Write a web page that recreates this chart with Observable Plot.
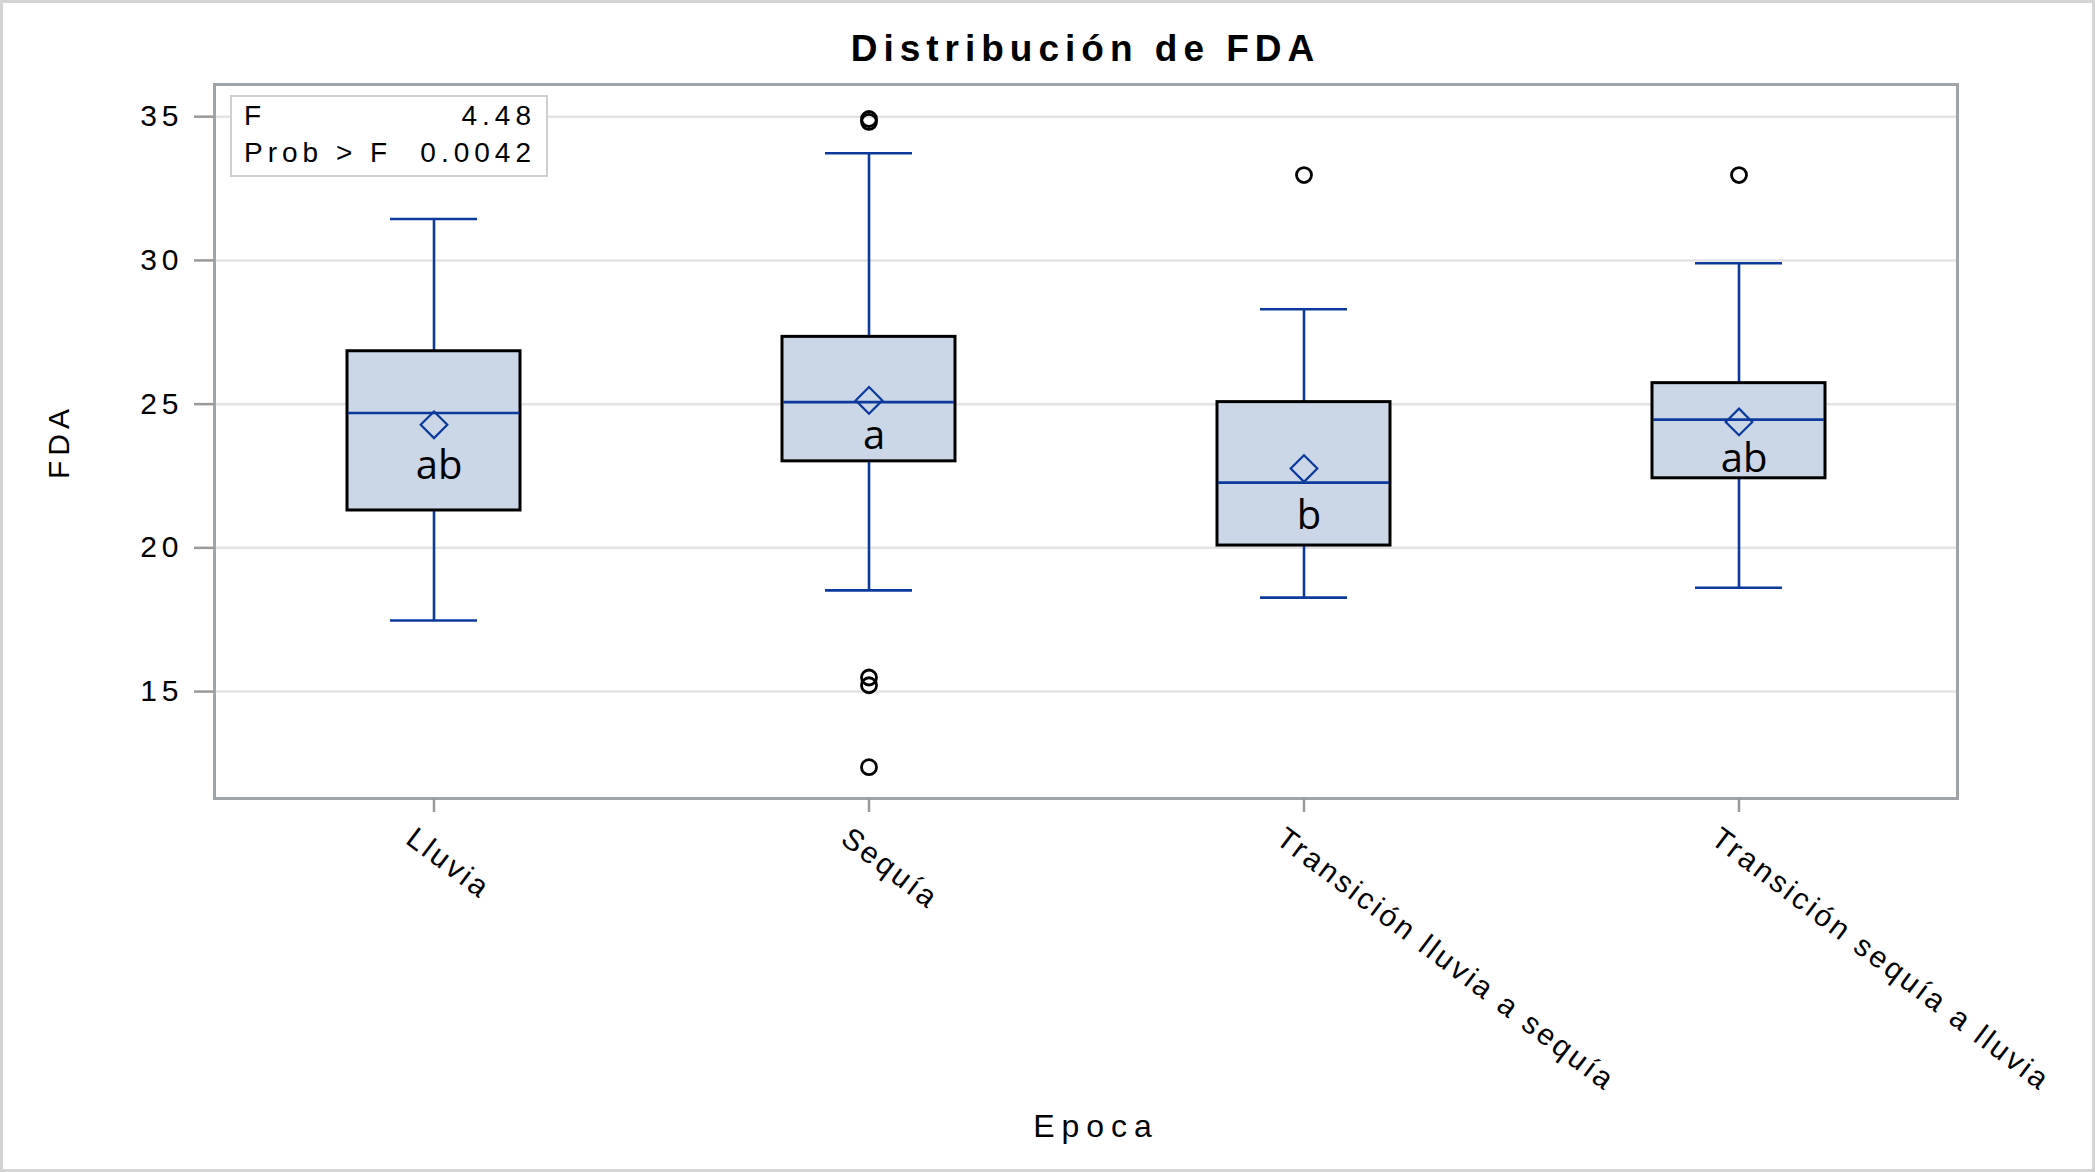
<!DOCTYPE html>
<html>
<head>
<meta charset="utf-8">
<script src="https://cdn.jsdelivr.net/npm/d3@7"></script>
<script src="https://cdn.jsdelivr.net/npm/@observablehq/plot@0.6"></script>
<style>
  html, body { margin: 0; padding: 0; background: #fff; }
  #wrap { position: relative; width: 2095px; height: 1172px; overflow: hidden; background: #fff;
          font-family: "Liberation Sans", Arial, sans-serif; color: #000; }
  #frameBorder { position: absolute; left: 0; top: 0; width: 2095px; height: 1172px; box-sizing: border-box;
                 border: 3px solid #d4d4d4; pointer-events: none; }
  #title { height: 70px; box-sizing: border-box; padding-top: 30px; padding-left: 76px; text-align: center;
           font-weight: bold; font-size: 37px; line-height: 1; letter-spacing: 6px; }
  #stats { position: absolute; left: 230px; top: 95px; width: 318px; height: 82px; box-sizing: border-box;
           border: 2px solid #cfcfcf; background: #fff; font-size: 28px; letter-spacing: 5px; }
  #stats .row { display: flex; justify-content: space-between; height: 37px; line-height: 37px;
                padding: 0 10px 0 12px; white-space: pre; }
  #chart svg text { letter-spacing: 5px; }
  #chart svg g[aria-label="x-axis tick label"] text { letter-spacing: 3px; }
  #chart svg .letra text, #chart svg text.letra { letter-spacing: 0; }
  #chart svg .ejeX text, #chart svg text.ejeX { letter-spacing: 7px; }
</style>
</head>
<body>
<div id="wrap">
  <div id="title">Distribución de FDA</div>
  <div id="chart"></div>
  <div id="stats"></div>
  <div id="frameBorder"></div>
</div>
<script>
// ---- Data ----
const epocas = ["Lluvia", "Sequía", "Transición lluvia a sequía", "Transición sequía a lluvia"];
const bigoteMin = [17.47, 18.52, 18.27, 18.61];
const q1        = [21.30, 23.01, 20.08, 22.42];
const mediana   = [24.69, 25.07, 22.27, 24.46];
const media     = [24.28, 25.13, 22.76, 24.38];
const q3        = [26.84, 27.34, 25.07, 25.73];
const bigoteMax = [31.44, 33.73, 28.30, 29.90];
const letras    = ["ab", "a", "b", "ab"];
const letraY    = [22.85, 23.90, 21.10, 23.10];

const atipEpoca = ["Sequía", "Sequía", "Sequía", "Sequía", "Sequía",
                   "Transición lluvia a sequía", "Transición sequía a lluvia"];
const atipValor = [34.92, 34.82, 15.49, 15.22, 12.37, 32.97, 32.97];

const ticksY = [15, 20, 25, 30, 35];
const yDominio = [11.28, 36.12];

const statEtiquetas = ["F", "Prob > F"];
const statValores = ["4.48", "0.0042"];

const tituloY = "FDA";
const tituloX = "Epoca";

// ---- Tables built from the arrays ----
const cajas = epocas.map((e, i) => ({
  epoca: e, min: bigoteMin[i], q1: q1[i], mediana: mediana[i], media: media[i],
  q3: q3[i], max: bigoteMax[i], letra: letras[i], letraY: letraY[i]
}));
const atipicos = atipEpoca.map((e, i) => ({ epoca: e, valor: atipValor[i] }));

const azul = "#0b3a9c";

const chart = Plot.plot({
  width: 2095,
  height: 1102,
  marginTop: 14,
  marginBottom: 374,
  marginLeft: 214,
  marginRight: 138,
  style: { fontFamily: "'Liberation Sans', Arial, sans-serif", fontSize: "30px", color: "#000", background: "transparent", overflow: "visible" },
  x: { type: "band", domain: epocas, padding: 0, label: null },
  y: { domain: yDominio, label: null },
  marks: [
    Plot.gridY(ticksY, { stroke: "#e3e3e3", strokeOpacity: 1, strokeWidth: 2.5 }),
    Plot.ruleX(cajas, { x: "epoca", y1: "q3", y2: "max", stroke: azul, strokeWidth: 2.6 }),
    Plot.ruleX(cajas, { x: "epoca", y1: "min", y2: "q1", stroke: azul, strokeWidth: 2.6 }),
    Plot.tickY(cajas, { x: "epoca", y: "max", stroke: azul, strokeWidth: 2.6, insetLeft: 174, insetRight: 174 }),
    Plot.tickY(cajas, { x: "epoca", y: "min", stroke: azul, strokeWidth: 2.6, insetLeft: 174, insetRight: 174 }),
    Plot.barY(cajas, { x: "epoca", y1: "q1", y2: "q3", fill: "#cbd6e6", stroke: "#000", strokeWidth: 3, insetLeft: 131, insetRight: 131 }),
    Plot.tickY(cajas, { x: "epoca", y: "mediana", stroke: azul, strokeWidth: 2.6, insetLeft: 132, insetRight: 132 }),
    Plot.dot(cajas, { x: "epoca", y: "media", symbol: "diamond2", r: 12, stroke: azul, strokeWidth: 2.2, fill: "none" }),
    Plot.dot(atipicos, { x: "epoca", y: "valor", r: 7.5, stroke: "#000", strokeWidth: 2.8, fill: "none" }),
    Plot.text(cajas, { x: "epoca", y: "letraY", text: "letra", dx: 5, fontSize: 40, fontFamily: "'Open Sans', 'Noto Sans', sans-serif",
                       lineAnchor: "middle", fill: "#000", className: "letra" }),
    Plot.frame({ stroke: "#9fa4a9", strokeWidth: 3 }),
    Plot.axisY({ ticks: ticksY, tickSize: 20, tickPadding: 11, stroke: "#9a9a9a", strokeWidth: 2.5, label: null }),
    // x ticks only
    Plot.axisX({ tickSize: 14, fill: "none", stroke: "#9a9a9a", strokeWidth: 2.5, label: null }),
    // x tick labels only
    Plot.axisX({ tickSize: 0, tickPadding: 36, tickRotate: 37, dx: -24, label: null }),
    Plot.text([tituloY], { text: d => d, frameAnchor: "left", dx: -155, rotate: -90, fontSize: 30,
                           textAnchor: "middle", lineAnchor: "middle" }),
    Plot.text([tituloX], { text: d => d, frameAnchor: "bottom", dx: 10, dy: 328, fontSize: 32,
                           textAnchor: "middle", lineAnchor: "middle", className: "ejeX" })
  ]
});
document.getElementById("chart").appendChild(chart);

// ---- Stats inset ----
const stats = document.getElementById("stats");
statEtiquetas.forEach((lab, i) => {
  const row = document.createElement("div");
  row.className = "row";
  const a = document.createElement("span"); a.textContent = lab;
  const b = document.createElement("span"); b.textContent = statValores[i];
  row.appendChild(a); row.appendChild(b);
  stats.appendChild(row);
});
</script>
</body>
</html>
